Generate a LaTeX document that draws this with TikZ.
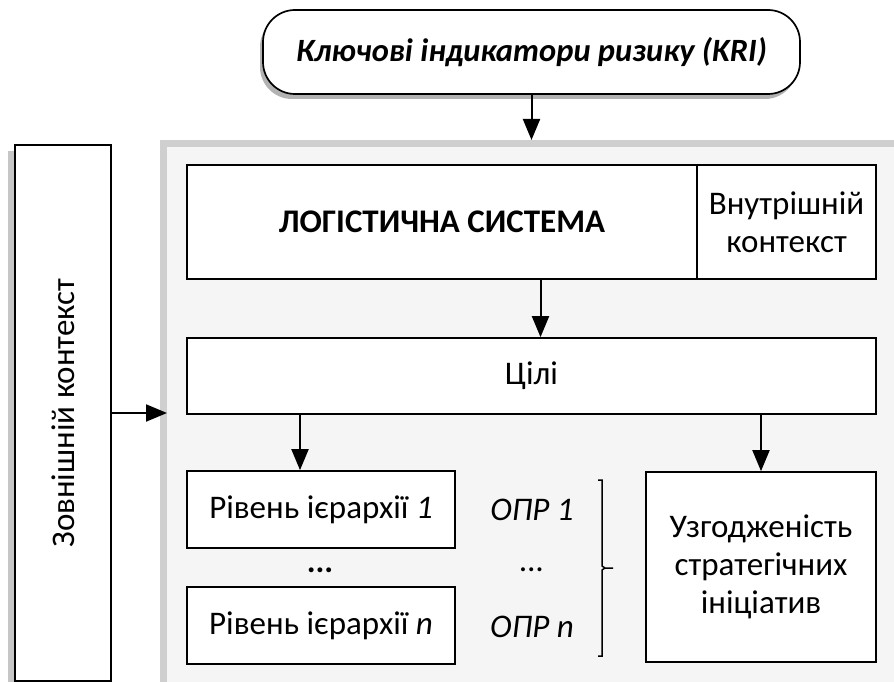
\documentclass[tikz,border=0pt]{standalone}
\usepackage{fontspec}
\setmainfont{Carlito}
\usetikzlibrary{arrows.meta,positioning,shadows}

\begin{document}
\begin{tikzpicture}[
  x=1pt, y=-1pt,
  box/.style={draw,line width=1.7pt,fill=white,inner sep=2pt,align=center,font=\fontsize{33}{38}\selectfont},
  arr/.style={-{Triangle[length=21pt,width=17pt]},line width=2pt},
  lbl/.style={font=\fontsize{33}{38}\selectfont\itshape},
  dots/.style={font=\fontsize{33}{38}\selectfont\bfseries}
]
  \useasboundingbox (0,0) rectangle (894,682);

  % grey field with its darker edge
  \fill[gray!38] (160,140) rectangle (894,682);
  \fill[gray!8] (167,147) rectangle (894,682);
  \coordinate (field) at (167,147);

  \node[box, rounded corners=32pt, minimum width=537pt, minimum height=84pt,
        drop shadow={shadow xshift=-3pt,shadow yshift=-5pt,fill=gray!60,opacity=1},
        font=\fontsize{32.5}{38}\selectfont\bfseries\itshape] (kri) at (531.5,52) {Ключові індикатори ризику (KRI)};

  \node[box, minimum width=96pt, minimum height=536pt,
        drop shadow={shadow xshift=-7pt,shadow yshift=-6pt,fill=gray!45,opacity=1}] (ext) at (63,413) {};
  \node[rotate=90, font=\fontsize{33}{38}\selectfont] (exttxt) at (ext.center) {Зовнішній контекст};

  \node[box, minimum width=510pt, minimum height=114pt, font=\fontsize{33}{38}\selectfont\bfseries] (logsys) at (442,222) {ЛОГІСТИЧНА СИСТЕМА};
  \node[box, minimum width=179pt, minimum height=114pt] (inner) at (786.5,222) {Внутрішній\\контекст};

  \node[box, minimum width=689pt, minimum height=76pt] (goals) at (531.5,376) {Цілі};

  \node[box, minimum width=268pt, minimum height=77pt] (lvl1) at (321,509.5) {Рівень ієрархії \textit{1}};
  \node[dots] (lvldots) at (320,570) {...};
  \node[box, minimum width=268pt, minimum height=77pt] (lvln) at (321,625.5) {Рівень ієрархії \textit{n}};

  \node[lbl] (dm1) at (532,510) {ОПР 1};
  \node[lbl] (dmdots) at (532,570) {...};
  \node[lbl] (dmn) at (532,627) {ОПР n};

  % bracket joining the decision makers
  \coordinate (brtop) at (598,480);
  \coordinate (brbot) at (598,656);
  \draw[line width=1.5pt] (brtop) -- ++(4,0) -- ++(0,86) -- ++(3,2) -- ++(8,0)
    ++(-8,0) -- ++(-3,2) -- (602,656) -- (brbot);

  \node[box, minimum width=230pt, minimum height=190pt] (agree) at (761,567) {Узгодженість\\стратегічних\\ініціатив};

  \draw[arr] (kri.south) -- (kri.south |- 0,140);
  \draw[arr] ([xshift=9pt]goals.north |- logsys.south) -- ([xshift=9pt]goals.north);
  \draw[arr] (goals.south -| 300,0) -- (lvl1.north -| 300,0);
  \draw[arr] (goals.south -| agree.north) -- (agree.north);
  \draw[arr] (ext.east) -- (ext.east -| field);
\end{tikzpicture}
\end{document}
